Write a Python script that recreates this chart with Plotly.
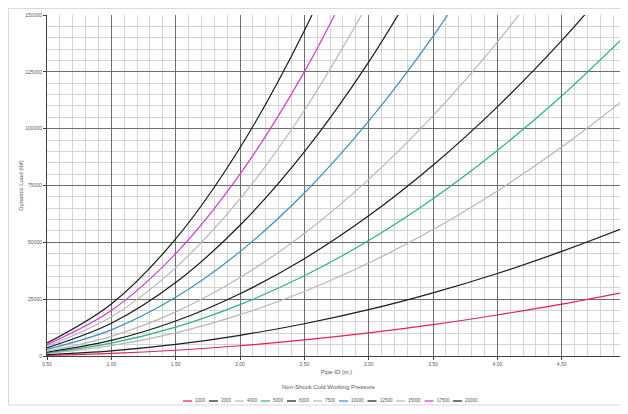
import plotly.graph_objects as go

pipe_id = [0.5, 1.0, 1.5, 2.0, 2.5, 3.0, 3.5, 4.0, 4.5, 5.0]

pressures = ["1000", "2000", "4000", "5000", "6000", "7500", "10000", "12500", "15000", "17500", "20000"]
colors = ["#e8214a", "#1a1a1a", "#b8b8b8", "#2bb38a", "#1a1a1a", "#b8b8b8",
          "#3a8fc4", "#1a1a1a", "#b8b8b8", "#d63ad0", "#1a1a1a"]

load_1000 = [280, 1130, 2540, 4510, 7050, 10150, 13800, 18050, 22800, 28200]
load_2000 = [570, 2270, 5100, 9100, 14200, 20400, 27800, 36300, 46000, 56700]
load_4000 = [1140, 4540, 10200, 18200, 28400, 40900, 55600, 72600, 91900, 113500]
load_5000 = [1410, 5650, 12700, 22600, 35300, 50800, 69200, 90400, 114400, 141200]
load_6000 = [1710, 6850, 15400, 27400, 42800, 61650, 83900, 109600, 138700, 171250]
load_7500 = [2160, 8630, 19400, 34500, 53900, 77700, 105700, 138100, 174800]
load_10000 = [2870, 11480, 25800, 45900, 71700, 103300, 140600, 183700]
load_12500 = [3590, 14370, 32300, 57500, 89800, 129300, 176000]
load_15000 = [4320, 17280, 38900, 69100, 108000, 155500]
load_17500 = [5000, 20000, 45000, 80000, 125000, 180100]
load_20000 = [5720, 22890, 51500, 91600, 143100, 206000]

series = [load_1000, load_2000, load_4000, load_5000, load_6000, load_7500,
          load_10000, load_12500, load_15000, load_17500, load_20000]

x_ticks = [0.5, 1.0, 1.5, 2.0, 2.5, 3.0, 3.5, 4.0, 4.5, 5.0]
y_ticks = [0, 25000, 50000, 75000, 100000, 125000, 150000]

# page body has an 8px margin, so the figure is drawn from (8, 8)
OFF = 8
W, H = 620, 406
ML, MR, MT, MB = 39, 2, 7, 58
PW, PH = W - ML - MR, H - MT - MB

def px_x(p):
    return (p - OFF - ML) / PW

def px_y(p):
    return (H - MB - (p - OFF)) / PH

fig = go.Figure()
for name, vals, col in zip(pressures, series, colors):
    fig.add_trace(go.Scatter(
        x=pipe_id[:len(vals)], y=vals, name=name, mode="lines",
        line=dict(color=col, width=1.2, shape="spline", smoothing=1.0),
        showlegend=False,
    ))

font_col = "#595959"

shapes = [dict(type="rect", xref="paper", yref="paper",
               x0=px_x(8.5), x1=px_x(660), y0=px_y(405), y1=px_y(8.5),
               line=dict(color="#d9d9d9", width=1), layer="below")]
annotations = [dict(text="Non-Shock Cold Working Pressure", xref="paper", yref="paper",
                    x=px_x(329), y=px_y(387), xanchor="center", yanchor="middle",
                    showarrow=False, font=dict(size=6, color=font_col))]
cursor = 183
ly = 401
for name, col in zip(pressures, colors):
    shapes.append(dict(type="line", xref="paper", yref="paper",
                       x0=px_x(cursor), x1=px_x(cursor + 9), y0=px_y(ly), y1=px_y(ly),
                       line=dict(color=col, width=1.2)))
    annotations.append(dict(text=name, xref="paper", yref="paper",
                            x=px_x(cursor + 10), y=px_y(ly), xanchor="left", yanchor="middle",
                            showarrow=False, font=dict(size=4.5, color=font_col)))
    cursor += 26 if len(name) == 4 else 28.5

fig.update_layout(
    width=W, height=H,
    margin=dict(l=ML, r=MR, t=MT, b=MB),
    paper_bgcolor="white", plot_bgcolor="white",
    font=dict(family="Liberation Sans, Arial", size=6, color=font_col),
    showlegend=False,
    xaxis=dict(
        range=[0.5, 5.0], tickvals=x_ticks, tickformat=".2f",
        automargin=False, ticklabeloverflow="allow",
        showgrid=True, gridcolor="#6e6e6e", gridwidth=1.2,
        minor=dict(dtick=0.1, showgrid=True, gridcolor="#d4d4d4", gridwidth=1),
        showline=True, linecolor="#404040", linewidth=1,
        ticks="outside", ticklen=3, tickcolor="#404040",
        zeroline=False,
        title=dict(text="Pipe ID (in.)", standoff=3, font=dict(size=6, color=font_col)),
        tickfont=dict(size=5, color=font_col),
    ),
    yaxis=dict(
        range=[0, 150000], tickvals=y_ticks, tickformat="d",
        automargin=False,
        showgrid=True, gridcolor="#6e6e6e", gridwidth=1.2,
        minor=dict(dtick=5000, showgrid=True, gridcolor="#d4d4d4", gridwidth=1),
        showline=True, linecolor="#404040", linewidth=1,
        ticks="outside", ticklen=3, tickcolor="#404040",
        zeroline=False,
        title=dict(text="Dynamic Load (lbf)", standoff=1, font=dict(size=6, color=font_col)),
        tickfont=dict(size=5, color=font_col),
    ),
    shapes=shapes,
    annotations=annotations,
)

fig.write_html("out.html")
